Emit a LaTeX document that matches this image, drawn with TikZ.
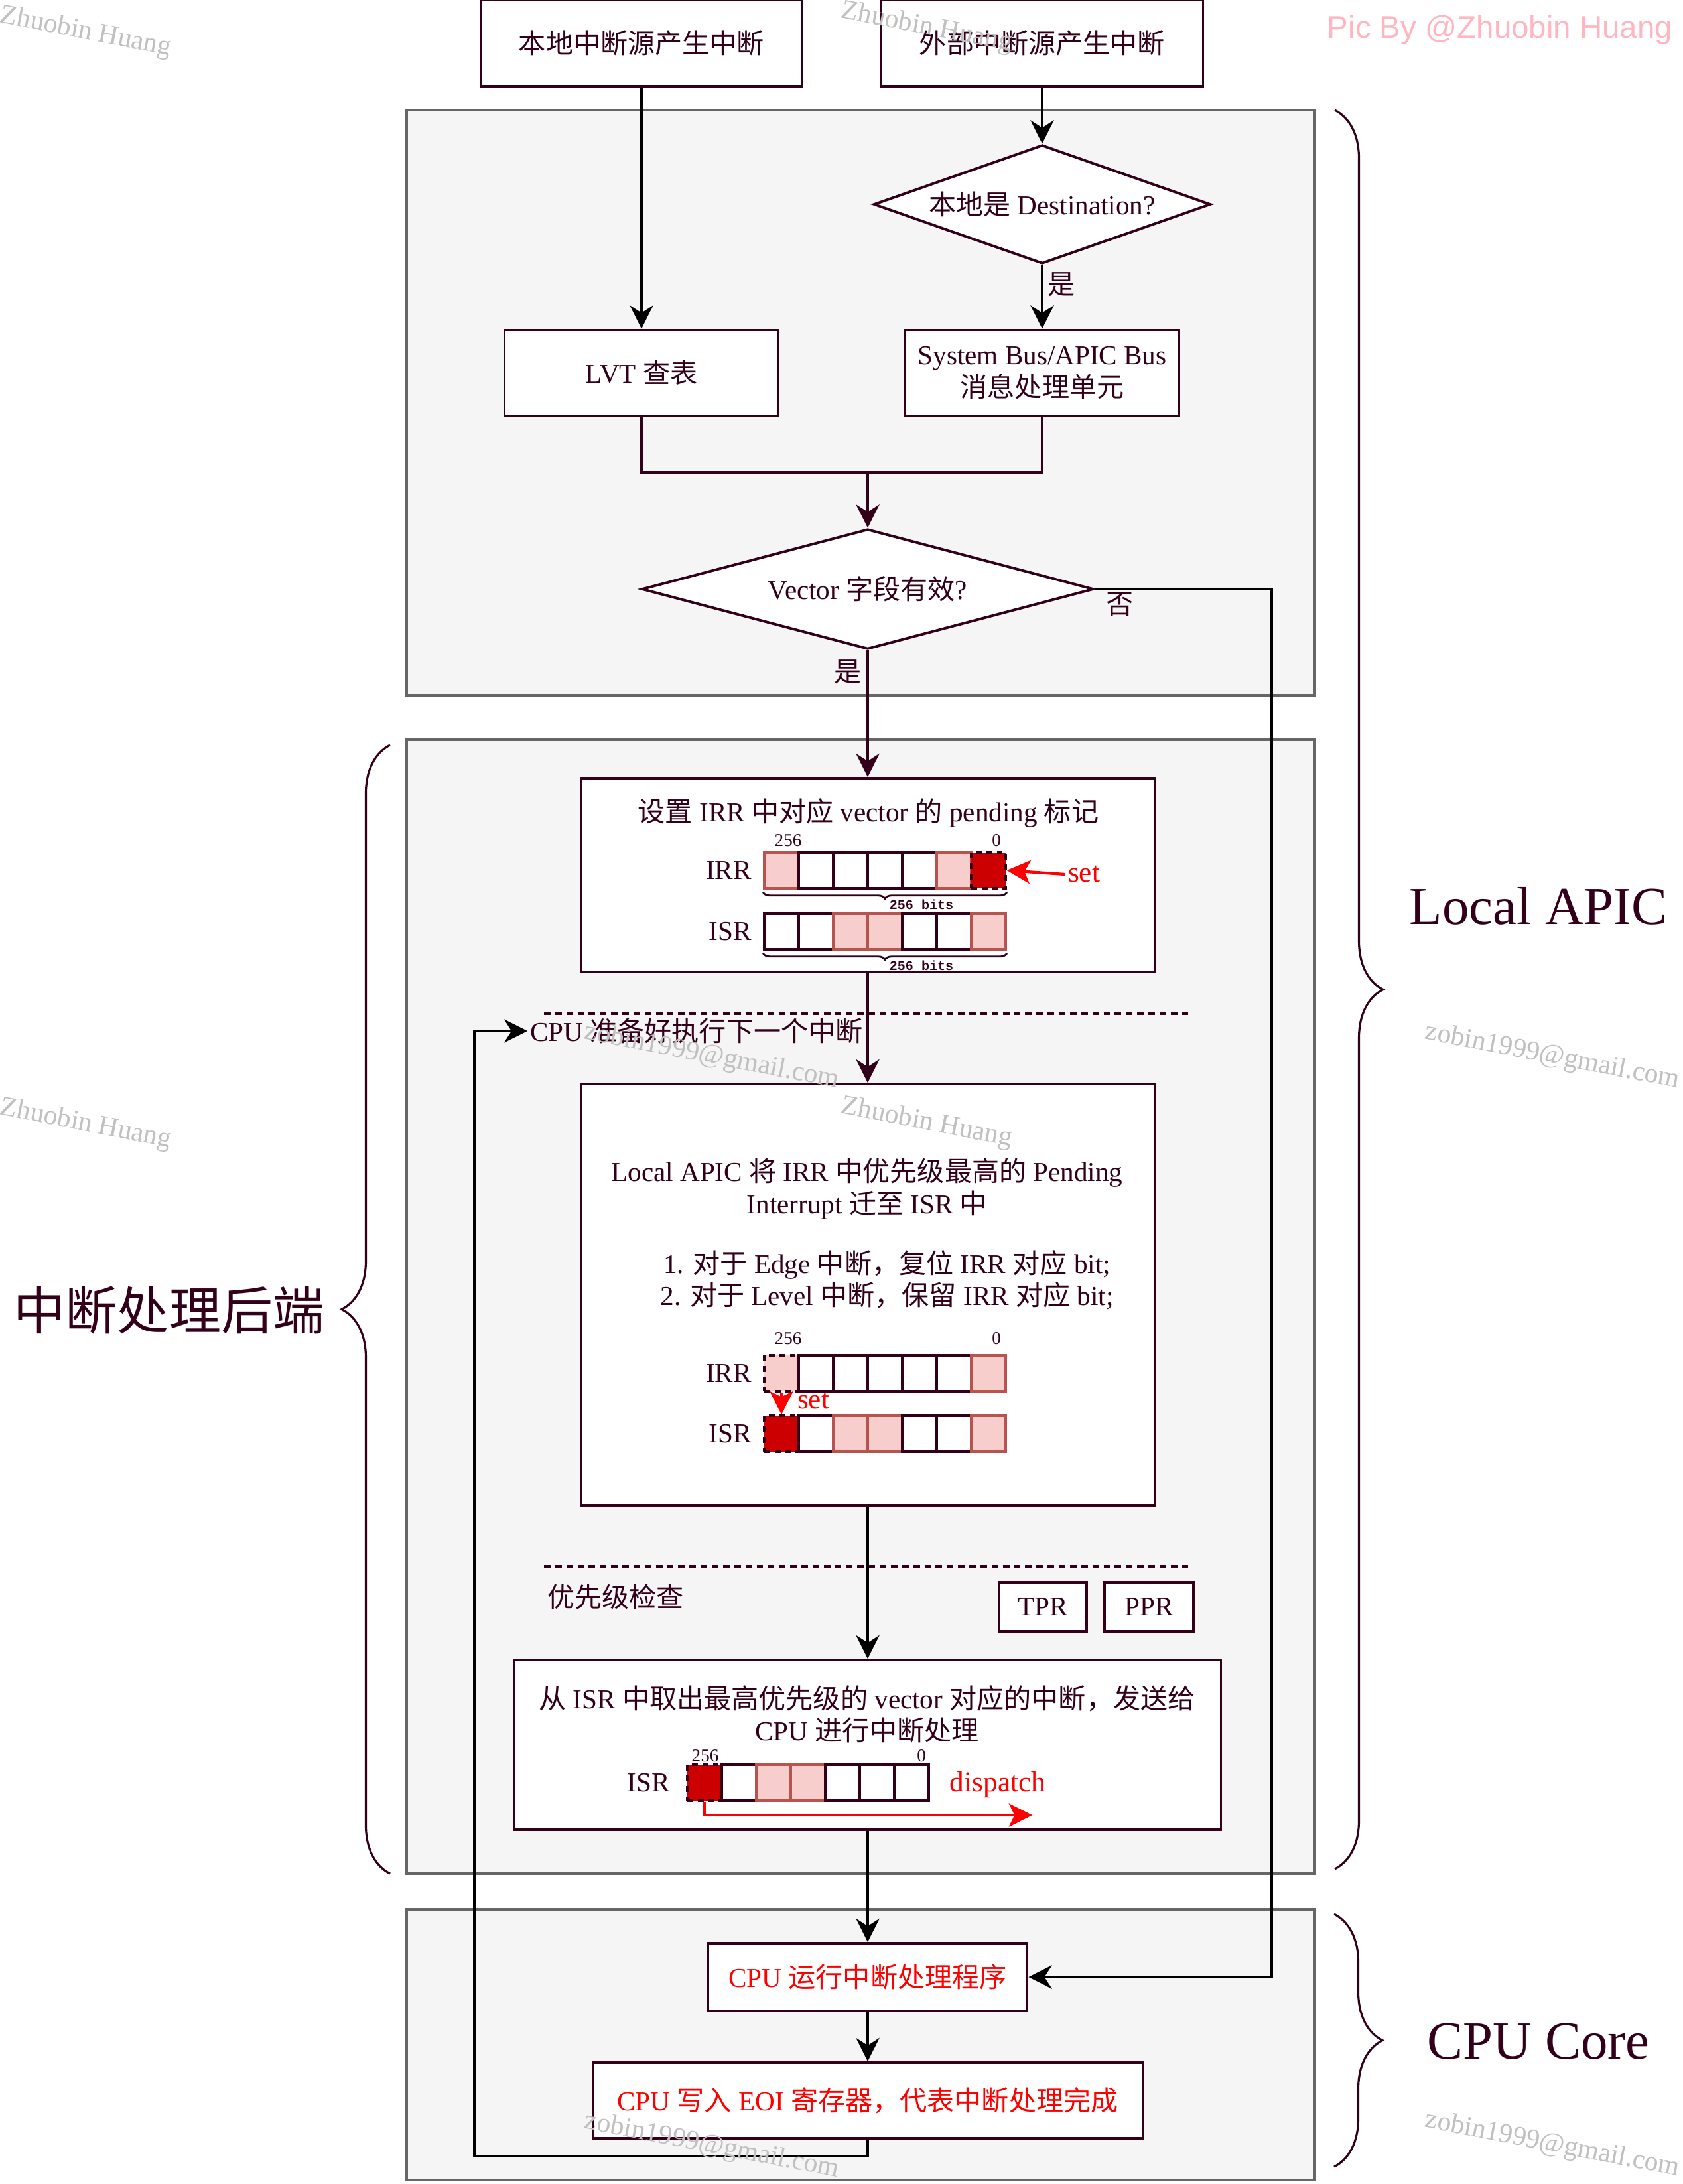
\documentclass[tikz,border=0pt]{standalone}
\usepackage{fontspec}
\setmainfont{Liberation Serif}
\setmonofont{Liberation Mono}
\newfontfamily\cjkfont{Noto Sans CJK SC}
\newfontfamily\picbyfont{Liberation Sans}
\usetikzlibrary{arrows.meta,positioning,shapes.geometric,decorations.pathreplacing}

%% CJK glyphs are handed over to Noto Sans CJK
\XeTeXinterchartokenstate=1
\chardef\cjkclass=1
\newcount\cjkcode
\cjkcode="4E00
\loop
  \XeTeXcharclass\cjkcode=\cjkclass
  \advance\cjkcode by 1
\ifnum\cjkcode<"A000 \repeat
\XeTeXcharclass"FF0C=\cjkclass
\XeTeXinterchartoks 0 \cjkclass={\begingroup\cjkfont}
\XeTeXinterchartoks 2 \cjkclass={\begingroup\cjkfont}
\XeTeXinterchartoks 3 \cjkclass={\begingroup\cjkfont}
\XeTeXinterchartoks 4095 \cjkclass={\begingroup\cjkfont}
\XeTeXinterchartoks \cjkclass 0={\endgroup}
\XeTeXinterchartoks \cjkclass 2={\endgroup}
\XeTeXinterchartoks \cjkclass 3={\endgroup}
\XeTeXinterchartoks \cjkclass 4095={\endgroup}

\definecolor{apicline}{HTML}{33001A}
\definecolor{regionfill}{HTML}{F5F5F5}
\definecolor{regionline}{HTML}{666666}
\definecolor{bitpink}{HTML}{F8CECC}
\definecolor{bitpinkline}{HTML}{B85450}
\definecolor{bitred}{HTML}{CC0000}
\definecolor{wmgray}{HTML}{C0C0C0}
\definecolor{picpink}{HTML}{FFB6C1}

\newcommand\apicmain{\fontsize{11.7pt}{13.7pt}\selectfont}

\tikzset{
  region/.style={draw=regionline, fill=regionfill, line width=1.15pt},
  box/.style={draw=apicline, fill=white, line width=1.1pt, inner sep=2pt, align=center},
  decision/.style={diamond, draw=apicline, fill=white, line width=1.1pt, inner sep=0pt},
  bit/.style={rectangle, minimum width=0.52cm, minimum height=0.54cm, inner sep=0pt, line width=1pt},
  whitebit/.style={draw=apicline, fill=white},
  pinkbit/.style={draw=bitpinkline, fill=bitpink},
  redbit/.style={draw=apicline, fill=bitred, dash pattern=on 2.5pt off 2pt},
  pinkdash/.style={draw=apicline, fill=bitpink, dash pattern=on 2.5pt off 2pt},
  digit/.style={inner sep=0pt, font=\fontsize{7.7pt}{8pt}\selectfont},
  bitcount/.style={inner sep=0pt, font=\ttfamily\bfseries\fontsize{5.7pt}{6pt}\selectfont},
  redtext/.style={text=red, font=\fontsize{12.3pt}{14pt}\selectfont},
  yesno/.style={inner sep=2pt},
  wire/.style={draw=apicline, line width=1.15pt},
  link/.style={draw=black, line width=1.1pt, -{Stealth[length=10pt,width=10pt,inset=3.2pt]}},
  mlink/.style={draw=apicline, line width=1.15pt, -{Stealth[length=10pt,width=10pt,inset=3.2pt]}},
  looplink/.style={draw=black, line width=1.15pt, -{Stealth[length=10pt,width=10pt,inset=3.2pt]}},
  redlink/.style={draw=red, line width=1.2pt, -{Stealth[length=10pt,width=10pt,inset=2.4pt]}},
  sepline/.style={draw=apicline, line width=1.15pt, dash pattern=on 2.8pt off 2pt},
  bigbrace/.style={draw=apicline, line width=0.9pt, decorate, decoration={brace, amplitude=0.73cm}},
  bitbrace/.style={draw=apicline, line width=0.8pt, decorate, decoration={brace, amplitude=0.1cm}},
  biglabel/.style={font=\fontsize{23pt}{26pt}\selectfont},
  wmark/.style={text=wmgray, rotate=-11, font=\fontsize{11.8pt}{13pt}\selectfont}
}

\begin{document}
\begin{tikzpicture}[font=\apicmain, text=apicline]
  \useasboundingbox (0,0) rectangle (25.36,-32.92);

  %% stages
  \draw[region] (6.13,-1.66) rectangle (19.82,-10.48);
  \draw[region] (6.13,-11.15) rectangle (19.82,-28.24);
  \draw[region] (6.13,-28.78) rectangle (19.82,-32.86);

  %% sources and routing
  \node (local)[box, minimum width=4.85cm, minimum height=1.3cm] at (9.67,-0.65) {本地中断源产生中断};
  \node (extern)[box, minimum width=4.85cm, minimum height=1.3cm] at (15.71,-0.65) {外部中断源产生中断};
  \node (dest)[decision, aspect=2.84, minimum width=5.08cm, minimum height=1.79cm] at (15.71,-3.08) {本地是 Destination?};
  \node (lvt)[box, minimum width=4.13cm, minimum height=1.29cm] at (9.67,-5.62) {LVT 查表};
  \node (sysbus)[box, minimum width=4.13cm, minimum height=1.29cm] at (15.71,-5.62) {System Bus/APIC Bus\\消息处理单元};
  \node (vec)[decision, aspect=3.76, minimum width=6.81cm, minimum height=1.81cm] at (13.08,-8.88) {Vector 字段有效?};
  \coordinate (merge) at (13.08,-7.12);
  \coordinate (noturn) at (19.17,-8.88);

  %% set pending bit in IRR
  \node (setirr)[box, minimum width=8.65cm, minimum height=2.92cm] at (13.08,-13.19) {};
  \node (setirrtxt) at (13.09,-12.25) {设置 IRR 中对应 vector 的 pending 标记};
  \foreach \st [count=\i from 0] in {pinkbit,whitebit,whitebit,whitebit,whitebit,pinkbit,redbit}
    \node (irra\i)[bit,\st] at ({11.78+0.52*\i},-13.12) {};
  \foreach \st [count=\i from 0] in {whitebit,whitebit,pinkbit,pinkbit,whitebit,whitebit,pinkbit}
    \node (isra\i)[bit,\st] at ({11.78+0.52*\i},-14.04) {};
  \node (irralbl)[left=0.05cm of irra0] {IRR};
  \node (isralbl)[left=0.05cm of isra0] {ISR};
  \node (irrahi)[digit] at (11.88,-12.67) {256};
  \node (irralo)[digit] at (15.02,-12.67) {0};
  \draw[bitbrace] ([yshift=-0.04cm]irra6.south east) -- ([yshift=-0.04cm]irra0.south west);
  \draw[bitbrace] ([yshift=-0.04cm]isra6.south east) -- ([yshift=-0.04cm]isra0.south west);
  \node (irrawidth)[bitcount] at (13.89,-13.63) {256 bits};
  \node (israwidth)[bitcount] at (13.89,-14.55) {256 bits};
  \node (setone)[redtext, inner sep=1pt] at (16.34,-13.18) {set};
  \draw[redlink] (setone.west) -- (irra6.east);

  \draw[sepline] (8.20,-15.28) -- (17.91,-15.28);
  \node (ready)[anchor=west, inner sep=1pt] at (7.95,-15.54) {CPU 准备好执行下一个中断};

  %% move highest pending to ISR
  \node (migrate)[box, minimum width=8.65cm, minimum height=6.35cm] at (13.08,-19.515) {};
  \node (migratetxt)[align=center] at (13.07,-17.92) {Local APIC 将 IRR 中优先级最高的 Pending\\Interrupt 迁至 ISR 中};
  \node (rules)[align=center] at (13.37,-19.29) {1. 对于 Edge 中断，复位 IRR 对应 bit;\\2. 对于 Level 中断，保留 IRR 对应 bit;};
  \foreach \st [count=\i from 0] in {pinkdash,whitebit,whitebit,whitebit,whitebit,whitebit,pinkbit}
    \node (irrb\i)[bit,\st] at ({11.78+0.52*\i},-20.70) {};
  \foreach \st [count=\i from 0] in {redbit,whitebit,pinkbit,pinkbit,whitebit,whitebit,pinkbit}
    \node (isrb\i)[bit,\st] at ({11.78+0.52*\i},-21.61) {};
  \node (irrblbl)[left=0.05cm of irrb0] {IRR};
  \node (isrblbl)[left=0.05cm of isrb0] {ISR};
  \node (irrbhi)[digit] at (11.88,-20.18) {256};
  \node (irrblo)[digit] at (15.02,-20.18) {0};
  \draw[redlink] (irrb0.south) -- (isrb0.north);
  \node (settwo)[redtext, inner sep=1pt] at (12.26,-21.12) {set};

  \draw[sepline] (8.20,-23.61) -- (17.91,-23.61);
  \node (prio)[anchor=west] at (8.13,-24.07) {优先级检查};
  \node (tpr)[box, minimum width=1.32cm, minimum height=0.74cm] at (15.72,-24.22) {TPR};
  \node (ppr)[box, minimum width=1.34cm, minimum height=0.74cm, right=0.23cm of tpr] {PPR};

  %% dispatch to CPU
  \node (fetch)[box, minimum width=10.65cm, minimum height=2.56cm] at (13.08,-26.30) {};
  \node (fetchtxt)[align=center] at (13.07,-25.84) {从 ISR 中取出最高优先级的 vector 对应的中断，发送给\\CPU 进行中断处理};
  \foreach \st [count=\i from 0] in {redbit,whitebit,pinkbit,pinkbit,whitebit,whitebit,whitebit}
    \node (isrc\i)[bit,\st] at ({10.62+0.52*\i},-26.87) {};
  \node (isrclbl)[left=0.12cm of isrc0] {ISR};
  \node (isrchi)[digit] at (10.63,-26.47) {256};
  \node (isrclo)[digit] at (13.89,-26.47) {0};
  \node (dispatchtxt)[redtext] at (15.04,-26.90) {dispatch};
  \coordinate (dispend) at (15.56,-27.36);
  \draw[redlink] (isrc0.south) |- (dispend);

  %% CPU core
  \node (cpurun)[box, text=red, minimum width=4.81cm, minimum height=1.02cm] at (13.08,-29.80) {CPU 运行中断处理程序};
  \node (eoi)[box, text=red, minimum width=8.29cm, minimum height=1.14cm] at (13.08,-31.66) {CPU 写入 EOI 寄存器，代表中断处理完成};
  \coordinate (loopturn) at (7.15,-32.50);

  %% connectors
  \draw[link] (local) -- (lvt);
  \draw[link] (extern) -- (dest);
  \draw[link] (dest) -- node[yesno, pos=0.3, right] {是} (sysbus);
  \draw[wire] (lvt.south) |- (merge);
  \draw[wire] (sysbus.south) |- (merge);
  \draw[mlink] (merge) -- (vec.north);
  \draw[mlink] (vec) -- node[yesno, pos=0.17, left] {是} (setirr);
  \draw[looplink] (vec.east) -- node[yesno, pos=0.14, below, inner sep=1pt] {否} (noturn) |- (cpurun.east);
  \draw[mlink] (setirr) -- (migrate);
  \draw[link] (migrate) -- (fetch);
  \draw[link] (fetch) -- (cpurun);
  \draw[link] (cpurun) -- (eoi);
  \draw[looplink] (eoi.south) |- (loopturn) |- (ready.west);

  %% braces and side labels
  \draw[bigbrace] (20.12,-1.66) -- (20.12,-28.17);
  \draw[bigbrace] (20.11,-28.85) -- (20.11,-32.66);
  \draw[bigbrace] (5.88,-28.24) -- (5.88,-11.23);
  \node (apiclbl)[biglabel] at (23.19,-13.66) {Local APIC};
  \node (corelbl)[biglabel] at (23.19,-30.77) {CPU Core};
  \node (backend)[font=\fontsize{22.2pt}{24pt}\selectfont] at (2.55,-19.75) {中断处理后端};

  %% watermarks
  \foreach \x/\y [count=\i] in {1.29/-0.49, 13.97/-0.42, 1.29/-16.95, 13.97/-16.93}
    \node (wmname\i)[wmark] at (\x,\y) {Zhuobin Huang};
  \foreach \x/\y [count=\i] in {10.73/-15.93, 23.40/-15.93, 10.73/-32.35, 23.40/-32.33}
    \node (wmmail\i)[wmark] at (\x,\y) {zobin1999@gmail.com};
  \node (picby)[text=picpink, font=\picbyfont\fontsize{13.5pt}{15pt}\selectfont] at (22.61,-0.45) {Pic By @Zhuobin Huang};
\end{tikzpicture}
\end{document}
